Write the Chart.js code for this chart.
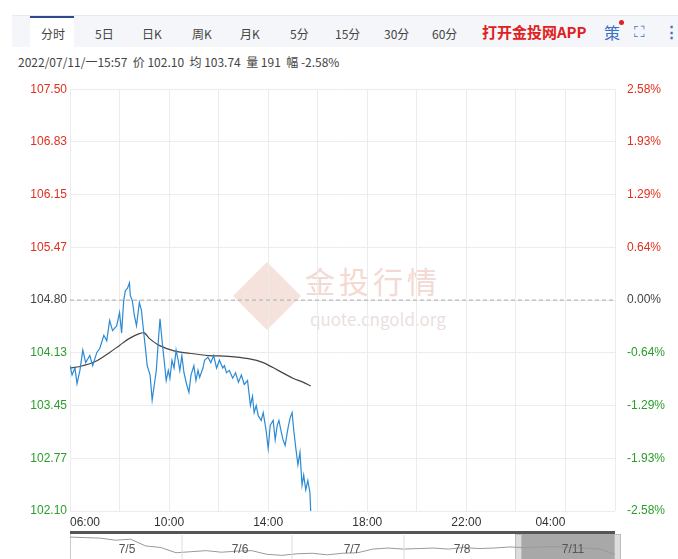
<!DOCTYPE html>
<html><head><meta charset="utf-8">
<script src="https://cdn.jsdelivr.net/npm/chart.js@4"></script>
<style>
body{margin:0;width:678px;height:559px;overflow:hidden;background:#fff;font-family:"Noto Sans CJK SC","Liberation Sans",sans-serif;position:relative}
#bar{position:absolute;left:12px;top:15px;width:666px;height:31px;background:#f4f6fa;border-top:1px solid #e6e9ef}
.t{position:absolute;top:9px;font-size:12px;color:#444}
#info{position:absolute;left:18px;top:53px;font-size:12px;color:#444}
#wm1{position:absolute;left:305px;top:258px;font-size:30px;color:#f4d9d3;letter-spacing:4px}
#wm2{position:absolute;left:310px;top:306px;font-size:17px;color:#eadfdd}
#dia{position:absolute;left:243px;top:272px;width:48px;height:48px;background:#f6e2dc;transform:rotate(45deg)}
#main{position:absolute;left:0;top:70px}
#nav{position:absolute;left:70px;top:535px}
</style></head><body>
<div id="bar">
<div style="position:absolute;left:18px;top:0;width:44px;height:31px;background:#fff;border-top:2px solid #2c4a8c"></div>
<span class="t" style="left:29px">分时</span><span class="t" style="left:83px">5日</span><span class="t" style="left:130px">日K</span>
<span class="t" style="left:180px">周K</span><span class="t" style="left:228px">月K</span><span class="t" style="left:278px">5分</span>
<span class="t" style="left:323px">15分</span><span class="t" style="left:372px">30分</span><span class="t" style="left:420px">60分</span>
<span class="t" style="left:470px;top:5px;font-size:15px;font-weight:bold;color:#e02020">打开金投网APP</span>
<span class="t" style="left:592px;top:4px;font-size:16px;color:#3a6fc4">策</span>
<span style="position:absolute;left:607px;top:4px;width:5px;height:5px;border-radius:3px;background:#e02020"></span>
<span class="t" style="left:622px;top:4px;font-size:15px;color:#3a6fc4">⛶</span>
<span class="t" style="left:652px;top:4px;font-size:15px;color:#3a6fc4;font-weight:bold">⋮</span>
</div>
<div id="info">2022/07/11/一15:57&nbsp; 价 102.10&nbsp; 均 103.74&nbsp; 量 191&nbsp; 幅 -2.58%</div>
<div id="dia"></div><div id="wm1">金投行情</div><div id="wm2">quote.cngold.org</div>
<canvas id="main" width="678" height="465"></canvas>
<div style="position:absolute;left:70px;top:531px;width:545px;height:3px;background:#555"></div>
<div style="position:absolute;left:70px;top:534px;width:560px;height:25px;border-left:1px solid #ccc"></div>
<div style="position:absolute;left:518px;top:534px;width:98px;height:25px;background:#a8a8a8"></div>
<div style="position:absolute;left:515px;top:534px;width:5px;height:25px;background:#ddd;border:1px solid #bbb"></div>
<div style="position:absolute;left:614px;top:534px;width:5px;height:25px;background:#ddd;border:1px solid #bbb"></div>
<canvas id="nav" width="545" height="24"></canvas>
<script>
const timeMin=[0,5,12,17,24,31,38,48,55,65,72,82,89,96,103,113,120,125,130,134,139,144,146,151,156,161,168,173,178,182,187,194,199,204,209,214,218,223,228,233,238,242,247,252,257,262,266,271,276,283,288,293,300,305,310,314,322,326,334,341,348,355,362,370,374,379,386,394,401,408,415,422,430,437,442,446,451,456,463,468,475,480,485,492,497,502,506,511,516,521,528,533,538,542,547,552,557,562,566,571,576,581,583];
const price=[103.96,103.84,103.93,103.73,103.90,104.16,104.00,104.09,103.96,104.13,104.18,104.35,104.28,104.54,104.41,104.47,104.64,104.38,104.79,104.92,104.95,105.02,104.86,104.79,104.60,104.47,104.77,104.67,104.41,104.22,103.96,103.84,103.52,103.71,103.90,104.28,104.56,104.28,104.03,103.77,103.90,103.80,104.03,103.93,104.16,104.03,103.90,104.09,103.87,103.71,103.62,103.84,103.96,103.77,103.90,103.81,103.93,104.03,104.07,104.00,104.09,103.93,104.03,103.93,103.96,103.87,103.90,103.80,103.87,103.75,103.84,103.72,103.77,103.45,103.57,103.36,103.45,103.32,103.26,103.36,103.13,102.90,103.20,103.26,103.01,103.20,103.26,103.13,103.01,102.94,103.16,103.29,103.36,103.13,102.90,102.69,102.85,102.43,102.56,102.37,102.49,102.34,102.10];
const avgMin=[0,24,60,96,120,144,168,180,192,216,252,288,336,384,432,468,504,540,564,583];
const avgPrice=[103.93,103.95,104.01,104.13,104.22,104.31,104.37,104.38,104.31,104.22,104.15,104.12,104.09,104.08,104.05,104.00,103.90,103.80,103.75,103.70];
const yTicks=[102.10,102.77,103.45,104.13,104.80,105.47,106.15,106.83,107.50];
const pctLabels=['-2.58%','-1.93%','-1.29%','-0.64%','0.00%','0.64%','1.29%','1.93%','2.58%'];
const prevClose=104.80;
const xTickMin=[0,240,480,720,960,1200];
const xTickLabels=['06:00','10:00','14:00','18:00','22:00','04:00'];
const navPrice=[107.2,107.1,107.0,106.6,106.8,105.5,105.2,104.2,104.4,104.6,104.3,104.5,104.6,103.9,103.7,104.0,104.1,103.8,104.1,104.2,104.9,105.1,104.9,105.0,105.1,104.9,105.2,105.0,105.1,105.3,105.2,105.3,105.4,105.2,105.1,104.9,103.9];
const colFor=v=>Math.abs(v-prevClose)<0.01?'#444':(v>prevClose?'#e0301e':'#2a9d2a');
const xy=(a,b)=>a.map((m,i)=>({x:m,y:b[i]}));
const overlay={id:'ov',afterDraw(c){const g=c.ctx,x=c.scales.x,y=c.scales.y,a=c.chartArea;
 g.save();g.strokeStyle='#aaa';g.setLineDash([4,3]);g.beginPath();const py=y.getPixelForValue(prevClose);g.moveTo(a.left,py);g.lineTo(a.right,py);g.stroke();
 g.setLineDash([]);g.fillStyle='#333';g.font='12px "Liberation Sans",sans-serif';g.textBaseline='top';
 xTickMin.forEach((m,i)=>{const px=x.getPixelForValue(m);g.textAlign=i==0?'left':(i==xTickMin.length-1?'right':'center');g.fillText(xTickLabels[i],px,a.bottom+6);});
 g.restore();}};
new Chart(document.getElementById('main'),{type:'line',
 data:{datasets:[{data:xy(timeMin,price),borderColor:'#2a8ad4',borderWidth:1.2,pointRadius:0,tension:0},
  {data:xy(avgMin,avgPrice),borderColor:'#444',borderWidth:1.2,pointRadius:0,tension:0.3}]},
 options:{responsive:false,animation:false,layout:{padding:{top:8}},plugins:{legend:{display:false},tooltip:{enabled:false}},
  scales:{x:{type:'linear',min:0,max:1320,afterBuildTicks:s=>{s.ticks=[0,120,240,360,480,600,720,840,960,1080,1200,1320].map(v=>({value:v}))},
     ticks:{display:false},grid:{color:'#ececec',drawTicks:false},border:{display:false},afterFit:s=>{s.height=24}},
   y:{min:102.10,max:107.50,afterBuildTicks:s=>{s.ticks=yTicks.map(v=>({value:v}))},afterFit:s=>{s.width=70},
     ticks:{callback:v=>v.toFixed(2),color:c=>colFor(c.tick.value),font:{size:12,family:'"Liberation Sans",sans-serif'},padding:3},grid:{color:'#ececec',drawTicks:false},border:{display:false}},
   y2:{position:'right',min:102.10,max:107.50,afterBuildTicks:s=>{s.ticks=yTicks.map(v=>({value:v}))},afterFit:s=>{s.width=63},
     ticks:{callback:(v,i)=>pctLabels[i],color:c=>colFor(c.tick.value),font:{size:12,family:'"Liberation Sans",sans-serif'},padding:12},grid:{display:false,drawTicks:false},border:{display:false}}}},
 plugins:[overlay]});
const navLabels=['7/5','7/6','7/7','7/8','7/11'];
const navDiv={id:'nd',afterDraw(c){const g=c.ctx;g.save();g.strokeStyle='#ddd';[112,222,334].forEach(p=>{g.beginPath();g.moveTo(p,0);g.lineTo(p,24);g.stroke();});
 g.fillStyle='#555';g.font='12px "Liberation Sans",sans-serif';g.textAlign='center';g.textBaseline='middle';
 [57,170,282,392,503].forEach((p,i)=>g.fillText(navLabels[i],p,15));g.restore();}};
new Chart(document.getElementById('nav'),{type:'line',data:{labels:navPrice.map((_,i)=>i),datasets:[{data:navPrice,borderColor:'#999',borderWidth:1,pointRadius:0}]},
 options:{responsive:false,animation:false,plugins:{legend:{display:false},tooltip:{enabled:false}},layout:{padding:0},
  scales:{x:{display:false},y:{display:false,min:103,max:107.6}}},plugins:[navDiv]});
</script></body></html>
